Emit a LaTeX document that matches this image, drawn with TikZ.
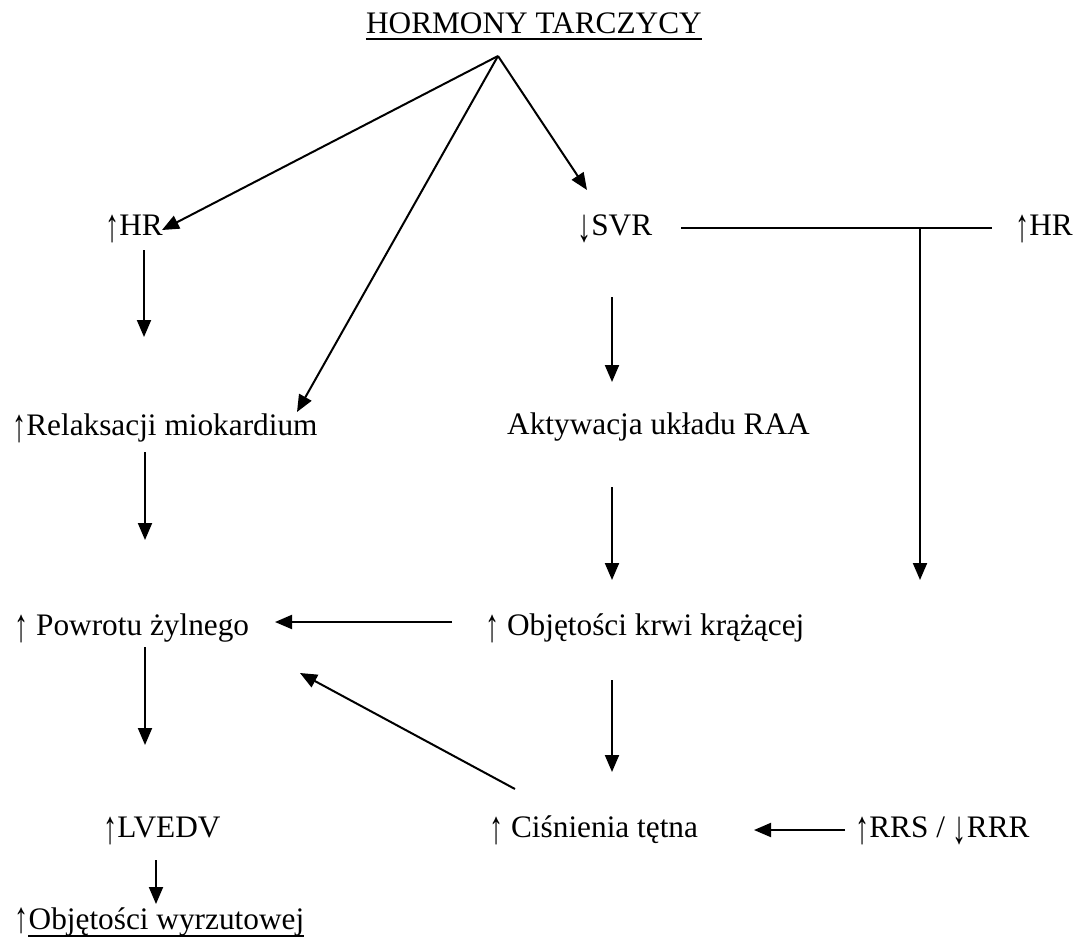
\documentclass[tikz,border=0pt]{standalone}
\usepackage{fontspec}
\usepackage{graphicx}
\setmainfont{Liberation Serif}
\usetikzlibrary{arrows.meta}
\newcommand\myup{\raisebox{-0.2em}{\scalebox{0.9}[1.5]{↑}}}
\newcommand\mydown{\raisebox{-0.2em}{\scalebox{0.9}[1.5]{↓}}}
\newcommand\myupshort{\raisebox{-0.12em}{\scalebox{0.9}[1.4]{↑}}}
\begin{document}
\begin{tikzpicture}[x=1pt,y=-1pt,
  lbl/.style={inner sep=0pt, anchor=base west, font=\fontsize{31.3}{36}\selectfont},
  conn/.style={line width=2pt, -{Triangle[length=17pt,width=14pt]}},
  plainline/.style={line width=2pt},
  uline/.style={line width=2pt}]
\useasboundingbox (0,0) rectangle (1075,945);
% texts
\node[lbl, anchor=base east] (title) at (702,33) {HORMONY TARCZYCY};
\draw[uline] ([yshift=-5.5pt]title.base west) -- ([yshift=-5.5pt]title.base east);
\node[lbl] (hrL) at (105,235) {\myup HR};
\node[lbl] (svr) at (577,235) {\mydown SVR};
\node[lbl, anchor=base east] (hrR) at (1073,235) {\myup HR};
\node[lbl] (relax) at (12,435) {\myup Relaksacji miokardium};
\node[lbl] (raa) at (507,434) {Aktywacja układu RAA};
\node[lbl] (powrot) at (14,635) {\myup{} Powrotu żylnego};
\node[lbl] (objk) at (485,635) {\myup{} Objętości krwi krążącej};
\node[lbl] (lvedv) at (103,837) {\myup LVEDV};
\node[lbl] (cisn) at (489,837) {\myup{} Ciśnienia tętna};
\node[lbl] (rrs) at (855,837) {\myup RRS / \mydown RRR};
\node[lbl] (wyrzA) at (14,929) {\myupshort};
\node[lbl] (wyrz) at (wyrzA.base east) {Objętości wyrzutowej};
\draw[uline] ([yshift=-7pt]wyrz.base west) -- ([yshift=-7pt]wyrz.base east);
% connector end points
\coordinate (apex) at (498,56);
\coordinate (hrLin) at (162,230);
\coordinate (relaxin) at (297,412);
\coordinate (svrin) at (587,190);
\coordinate (hrLout) at (144,250);
\coordinate (relaxtop) at (144,337);
\coordinate (relaxout) at (145,452);
\coordinate (powrottop) at (145,540);
\coordinate (powrotout) at (145,647);
\coordinate (lvedvtop) at (145,745);
\coordinate (lvedvout) at (156,860);
\coordinate (wyrztop) at (156,904);
\coordinate (svrout) at (612,297);
\coordinate (raatop) at (612,382);
\coordinate (raaout) at (612,487);
\coordinate (objktop) at (612,580);
\coordinate (objkout) at (612,680);
\coordinate (cisntop) at (612,772);
\coordinate (objkleft) at (452,622);
\coordinate (powrotright) at (275,622);
\coordinate (cisnup) at (515,789);
\coordinate (powrotlow) at (300,673);
\coordinate (rrsleft) at (845,830);
\coordinate (cisnright) at (754,830);
\coordinate (svrright) at (681,228);
\coordinate (hrRleft) at (992,228);
\coordinate (junc) at (920,228);
\coordinate (juncdown) at (920,580);
% connectors
\draw[conn] (apex) -- (hrLin);
\draw[conn] (apex) -- (relaxin);
\draw[conn] (apex) -- (svrin);
\draw[conn] (hrLout) -- (relaxtop);
\draw[conn] (relaxout) -- (powrottop);
\draw[conn] (powrotout) -- (lvedvtop);
\draw[conn] (lvedvout) -- (wyrztop);
\draw[conn] (svrout) -- (raatop);
\draw[conn] (raaout) -- (objktop);
\draw[conn] (objkout) -- (cisntop);
\draw[conn] (objkleft) -- (powrotright);
\draw[conn] (cisnup) -- (powrotlow);
\draw[conn] (rrsleft) -- (cisnright);
\draw[plainline] (svrright) -- (hrRleft);
\draw[conn] (junc) -- (juncdown);
\end{tikzpicture}
\end{document}
